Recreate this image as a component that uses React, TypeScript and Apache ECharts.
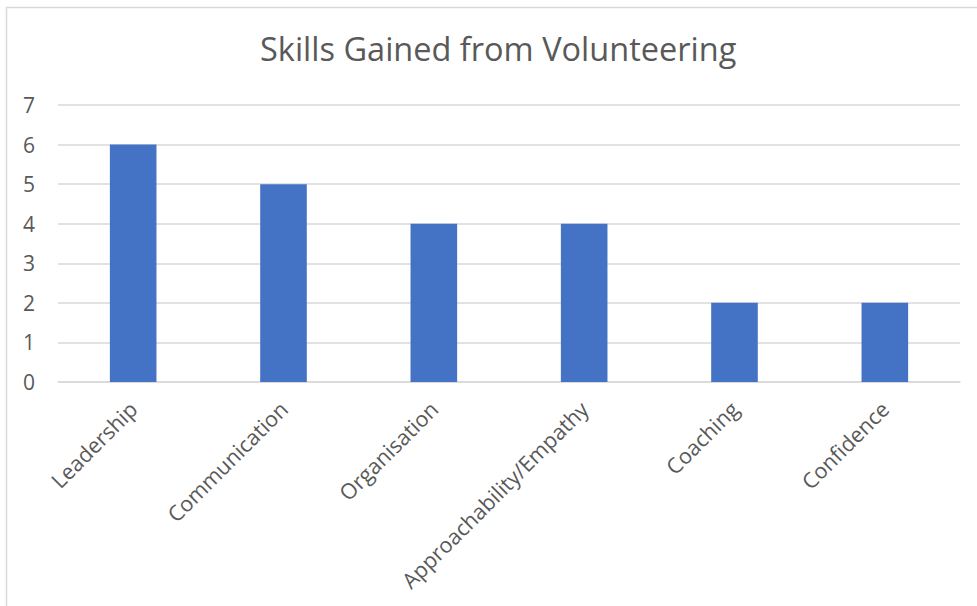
import React, { useEffect, useRef } from "react";
import * as echarts from "echarts";

const categories = [
  "Leadership",
  "Communication",
  "Organisation",
  "Approachability/Empathy",
  "Coaching",
  "Confidence",
];
const values = [6, 5, 4, 4, 2, 2];
const titleText = "Skills Gained from Volunteering";

export default function App() {
  const ref = useRef<HTMLDivElement>(null);
  useEffect(() => {
    document.body.style.margin = "0";
    const chart = echarts.init(ref.current!, null, { renderer: "svg" });
    const font = "'Open Sans', sans-serif";
    chart.setOption({
      animation: false,
      backgroundColor: "#ffffff",
      title: {
        text: titleText,
        left: 255,
        top: 27,
        textStyle: { fontFamily: font, fontSize: 32.5, fontWeight: "normal", color: "#595959" },
      },
      graphic: [
        {
          type: "rect",
          shape: { x: 6.5, y: 7.5, width: 1100, height: 800 },
          style: { fill: "none", stroke: "#d9d9d9", lineWidth: 1.5 },
          silent: true,
        },
      ],
      grid: { left: 58, right: 17, top: 105, bottom: 224, containLabel: false },
      xAxis: {
        type: "category",
        data: categories,
        axisLine: { show: true, lineStyle: { color: "#d9d9d9", width: 1.5 } },
        axisTick: { show: false },
        axisLabel: {
          rotate: 45,
          interval: 0,
          margin: 23,
          fontFamily: font,
          fontSize: 21.5,
          color: "#595959",
        },
      },
      yAxis: {
        type: "value",
        min: 0,
        max: 7,
        interval: 1,
        axisLine: { show: false },
        axisTick: { show: false },
        splitLine: { lineStyle: { color: "#d9d9d9", width: 1.5 } },
        axisLabel: { margin: 23, fontFamily: font, fontSize: 21, color: "#595959" },
      },
      series: [
        {
          type: "bar",
          data: values,
          barWidth: "31%",
          itemStyle: { color: "#4472c4" },
        },
      ],
    });
    return () => chart.dispose();
  }, []);
  return <div ref={ref} style={{ position: "fixed", left: 0, top: 0, width: 977, height: 606 }} />;
}
